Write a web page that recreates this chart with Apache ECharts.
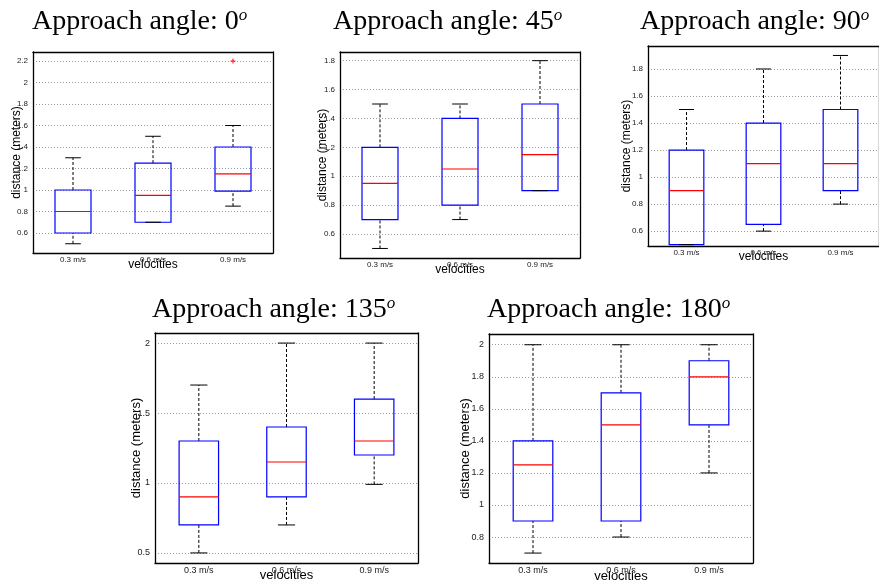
<!DOCTYPE html>
<html>
<head>
<meta charset="utf-8">
<script src="https://cdn.jsdelivr.net/npm/echarts@6/dist/echarts.min.js"></script>
<style>
html, body { margin: 0; padding: 0; background: #fff; }
#chart { width: 879px; height: 585px; }
</style>
</head>
<body>
<div id="chart"></div>
<script>
// velocities on x, one box per velocity
const categories = ['0.3 m/s', '0.6 m/s', '0.9 m/s'];
const angles = ['0', '45', '90', '135', '180'];

// [min, q1, median, q3, max] for each velocity
const box0 = [[0.5, 0.6, 0.8, 1.0, 1.3], [0.7, 0.7, 0.95, 1.25, 1.5], [0.85, 0.99, 1.15, 1.4, 1.6]];
const box45 = [[0.5, 0.7, 0.95, 1.2, 1.5], [0.7, 0.8, 1.05, 1.4, 1.5], [0.9, 0.9, 1.15, 1.5, 1.8]];
const box90 = [[0.5, 0.5, 0.9, 1.2, 1.5], [0.6, 0.65, 1.1, 1.4, 1.8], [0.8, 0.9, 1.1, 1.5, 1.9]];
const box135 = [[0.5, 0.7, 0.9, 1.3, 1.7], [0.7, 0.9, 1.15, 1.4, 2.0], [0.99, 1.2, 1.3, 1.6, 2.0]];
const box180 = [[0.7, 0.9, 1.25, 1.4, 2.0], [0.8, 0.9, 1.5, 1.7, 2.0], [1.2, 1.5, 1.8, 1.9, 2.0]];

// outliers: [velocity index, value]
const outliers0 = [[2, 2.2]];

// y tick labels
const ticks0 = [0.6, 0.8, 1, 1.2, 1.4, 1.6, 1.8, 2, 2.2];
const ticks45 = [0.6, 0.8, 1, 1.2, 1.4, 1.6, 1.8];
const ticks90 = [0.6, 0.8, 1, 1.2, 1.4, 1.6, 1.8];
const ticks135 = [0.5, 1, 1.5, 2];
const ticks180 = [0.8, 1, 1.2, 1.4, 1.6, 1.8, 2];

const boxes = [box0, box45, box90, box135, box180];
const outliers = [outliers0, [], [], [], []];
const ticks = [ticks0, ticks45, ticks90, ticks135, ticks180];

// panel placement (pixels) and axis ranges
const layout = [
    { left: 33, top: 52, width: 240, height: 201, min: 0.414, max: 2.284, tLeft: 32, tTop: 7, fs: 8, ns: 12, yGap: 10, xGap: 6 },
    { left: 340, top: 52, width: 240, height: 206, min: 0.434, max: 1.86, tLeft: 333, tTop: 7, fs: 8, ns: 12, yGap: 11, xGap: 6 },
    { left: 648, top: 46, width: 240, height: 200, min: 0.49, max: 1.97, tLeft: 640, tTop: 7, fs: 8, ns: 12, yGap: 15, xGap: 5 },
    { left: 155, top: 333, width: 263, height: 230, min: 0.428, max: 2.072, tLeft: 152, tTop: 295, fs: 9, ns: 13, yGap: 12, xGap: 6 },
    { left: 489, top: 334, width: 264, height: 229, min: 0.638, max: 2.067, tLeft: 487, tTop: 295, fs: 9, ns: 13, yGap: 17, xGap: 7 }
];

const SANS = 'Liberation Sans, Arial, sans-serif';
const SERIF = 'Liberation Serif, Times New Roman, serif';

function renderBox(params, api) {
    const x = api.value(0);
    const lo = api.coord([x, api.value(1)]);
    const q1 = api.coord([x, api.value(2)]);
    const md = api.coord([x, api.value(3)]);
    const q3 = api.coord([x, api.value(4)]);
    const hi = api.coord([x, api.value(5)]);
    const band = api.size([1, 0])[0];
    const half = band * 0.225;
    const cap = half / 2.3;
    const cx = lo[0];
    const dash = { stroke: '#000', lineWidth: 1, lineDash: [3, 2] };
    const solid = { stroke: '#000', lineWidth: 1 };
    return {
        type: 'group',
        children: [
            { type: 'line', shape: { x1: cx, y1: q3[1], x2: cx, y2: hi[1] }, style: dash },
            { type: 'line', shape: { x1: cx, y1: lo[1], x2: cx, y2: q1[1] }, style: dash },
            {
                type: 'rect',
                shape: { x: cx - half, y: q3[1], width: half * 2, height: q1[1] - q3[1] },
                style: { fill: 'none', stroke: '#0000ff', lineWidth: 1.2 }
            },
            { type: 'line', shape: { x1: cx - cap, y1: hi[1], x2: cx + cap, y2: hi[1] }, style: solid },
            { type: 'line', shape: { x1: cx - cap, y1: lo[1], x2: cx + cap, y2: lo[1] }, style: solid },
            { type: 'line', shape: { x1: cx - half, y1: md[1], x2: cx + half, y2: md[1] }, style: { stroke: '#ff0000', lineWidth: 1.2 } }
        ]
    };
}

// small red plus for outliers
function renderOutlier(params, api) {
    const p = api.coord([api.value(0), api.value(1)]);
    const s = 2.5;
    const st = { stroke: '#ff0000', lineWidth: 1 };
    return {
        type: 'group',
        children: [
            { type: 'line', shape: { x1: p[0] - s, y1: p[1], x2: p[0] + s, y2: p[1] }, style: st },
            { type: 'line', shape: { x1: p[0], y1: p[1] - s, x2: p[0], y2: p[1] + s }, style: st }
        ]
    };
}

const chart = echarts.init(document.getElementById('chart'));

const title = [];
const grid = [];
const xAxis = [];
const yAxis = [];
const series = [];

const frame = { show: true, onZero: false, lineStyle: { color: '#000', width: 1.3 } };

layout.forEach((p, i) => {
    title.push({
        left: p.tLeft,
        top: p.tTop,
        padding: 0,
        text: '{a|Approach angle: ' + angles[i] + '}{b|o}',
        textStyle: {
            fontWeight: 'normal',
            rich: {
                a: { fontFamily: SERIF, fontSize: 28, fontWeight: 'normal', color: '#000', lineHeight: 30 },
                b: { fontFamily: SERIF, fontSize: 17, fontWeight: 'normal', fontStyle: 'italic', color: '#000', verticalAlign: 'top', lineHeight: 20 }
            }
        }
    });
    grid.push({ left: p.left, top: p.top, width: p.width, height: p.height });

    const tick = { inside: true, alignWithLabel: true, length: 4, lineStyle: { color: '#000' } };
    xAxis.push({
        gridIndex: i, type: 'category', data: categories, position: 'bottom',
        name: 'velocities', nameLocation: 'middle', nameGap: p.xGap, nameMoveOverlap: false,
        nameTextStyle: { fontFamily: SANS, fontSize: p.ns, color: '#000' },
        axisLine: frame, axisTick: tick,
        axisLabel: { fontFamily: SANS, fontSize: p.fs, color: '#222', margin: 3 },
        splitLine: { show: false }
    });
    xAxis.push({
        gridIndex: i, type: 'category', data: categories, position: 'top',
        axisLine: frame, axisTick: tick, axisLabel: { show: false }, splitLine: { show: false }
    });

    yAxis.push({
        gridIndex: i, type: 'value', min: p.min, max: p.max, position: 'left',
        name: 'distance (meters)', nameLocation: 'middle', nameRotate: 90, nameGap: p.yGap, nameMoveOverlap: false,
        nameTextStyle: { fontFamily: SANS, fontSize: p.ns, color: '#000' },
        axisLine: frame,
        axisTick: { inside: true, length: 4, customValues: ticks[i], lineStyle: { color: '#000' } },
        axisLabel: { customValues: ticks[i], fontFamily: SANS, fontSize: p.fs, color: '#222', margin: 5 },
        splitLine: { show: true, lineStyle: { type: [1, 2], color: '#999' } }
    });
    yAxis.push({
        gridIndex: i, type: 'value', min: p.min, max: p.max, position: 'right',
        axisLine: frame,
        axisTick: { inside: true, length: 4, customValues: ticks[i], lineStyle: { color: '#000' } },
        axisLabel: { show: false },
        splitLine: { show: false }
    });

    series.push({
        type: 'custom',
        xAxisIndex: i * 2,
        yAxisIndex: i * 2,
        silent: true,
        clip: false,
        renderItem: renderBox,
        encode: { x: 0, y: [1, 2, 3, 4, 5] },
        data: boxes[i].map((b, k) => [k].concat(b))
    });
    if (outliers[i].length) {
        series.push({
            type: 'custom',
            xAxisIndex: i * 2,
            yAxisIndex: i * 2,
            silent: true,
            renderItem: renderOutlier,
            encode: { x: 0, y: 1 },
            data: outliers[i]
        });
    }
});

chart.setOption({
    animation: false,
    backgroundColor: '#fff',
    title: title,
    grid: grid,
    xAxis: xAxis,
    yAxis: yAxis,
    series: series
});
</script>
</body>
</html>
